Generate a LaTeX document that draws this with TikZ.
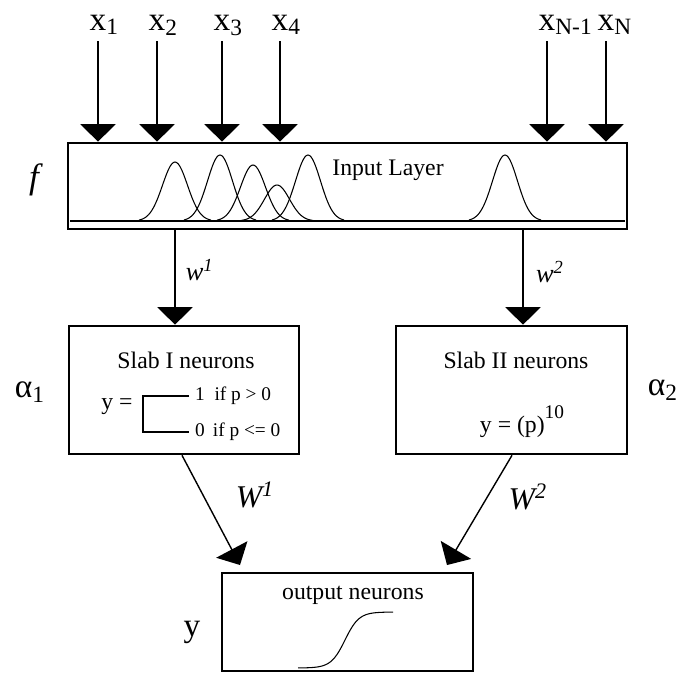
\documentclass[tikz,border=0pt]{standalone}
\usepackage{fontspec}
\setmainfont{Liberation Serif}
\usetikzlibrary{arrows.meta}

\tikzset{
  box/.style={draw, line width=1.5pt},
  feed/.style={line width=0.8pt, -{Triangle[width=20pt,length=10pt]}},
  bump/.style={line width=0.6pt},
  tag/.style={font=\fontsize{19}{22}\selectfont},
  txt/.style={font=\fontsize{13.5}{15}\selectfont},
  cond/.style={font=\fontsize{11}{12}\selectfont, anchor=west}
}

\begin{document}
\begin{tikzpicture}[x=0.02cm, y=-0.02cm]
\useasboundingbox (0,0) rectangle (689,677);

% the four boxes
\node[box, minimum width=11.18cm, minimum height=1.72cm] (layer) at (347.5,186) {};
\node[box, minimum width=4.6cm, minimum height=2.56cm] (slabI) at (184,390) {};
\node[box, minimum width=4.62cm, minimum height=2.56cm] (slabII) at (511.5,390) {};
\node[box, minimum width=5.02cm, minimum height=1.96cm] (out) at (347.5,622) {};

% inputs
\foreach \n/\px/\s in {x1/98/1, x2/157/2, x3/222/3, x4/280/4, xm/547/N-1, xn/606/N}{
  \node[tag, anchor=base] (\n) at (\px,30) {x\rlap{\textsubscript{\s}}};
  \draw[feed] (\n.south) -- (\n.south |- layer.north);
}

% input layer
\node[txt] (inname) at (388,170) {Input Layer};
\draw[bump] (70,221) -- (625,221);
\foreach \c/\a in {175/59, 220/66, 253/56, 277/36, 308/66, 505/66}{
  \pgfmathsetmacro\lo{\c-36}
  \pgfmathsetmacro\hi{\c+36}
  \draw[bump, domain=\lo:\hi, samples=45, smooth] plot (\x, {221-\a*exp(-((\x-\c)/12.5)^2/2)});
}
\node[tag, font=\fontsize{20}{22}\selectfont\itshape] (f) at (34,180) {f};

% layer to slabs
\draw[feed] (layer.south -| 175,0) -- (slabI.north -| 175,0)
  node[midway, xshift=14pt, yshift=4.3pt, font=\fontsize{15}{17}\selectfont\itshape] (w1) {w\textsuperscript{1}};
\draw[feed] (layer.south -| 523,0) -- (slabII.north -| 523,0)
  node[midway, xshift=15.3pt, yshift=3pt, font=\fontsize{15}{17}\selectfont\itshape] (w2) {w\textsuperscript{2}};

% slab I
\node[txt] (s1name) at (186,360) {Slab I neurons};
\node[txt] (yeq) at (117,407) {y =};
\node[cond] (one) at (189,396) {1\enspace if p > 0};
\node[cond] (zero) at (189,432) {0\, if p <= 0};
\draw[line width=0.8pt] (one.west) -- ++(-46,0) |- (zero.west);
\node[tag] (a1) at (30,392) {α\textsubscript{1}};

% slab II
\node[txt] (s2name) at (516,360) {Slab II neurons};
\node[txt] (power) at (522,422) {y = (p)\raisebox{1.3ex}{\fontsize{11}{11}\selectfont 10}};
\node[tag] (a2) at (663,390) {α\textsubscript{2}};

% slabs to output
\coordinate (o1) at (240,565);
\coordinate (o2) at (447,565);
\draw[feed] (slabI.south -| 182,0) -- (o1)
  node[midway, xshift=25pt, yshift=8.5pt, font=\fontsize{18}{20}\selectfont\itshape] (W1) {W\textsuperscript{1}};
\draw[feed] (slabII.south -| 512,0) -- (o2)
  node[midway, xshift=27.5pt, yshift=7.4pt, font=\fontsize{18}{20}\selectfont\itshape] (W2) {W\textsuperscript{2}};

% output
\node[txt] (outname) at (353,595) {output neurons};
\draw[bump, domain=298:393, samples=60] plot (\x, {668-56/(1+exp(-(\x-345)/7))});
\node[tag] (y) at (192,632) {y};
\end{tikzpicture}
\end{document}
